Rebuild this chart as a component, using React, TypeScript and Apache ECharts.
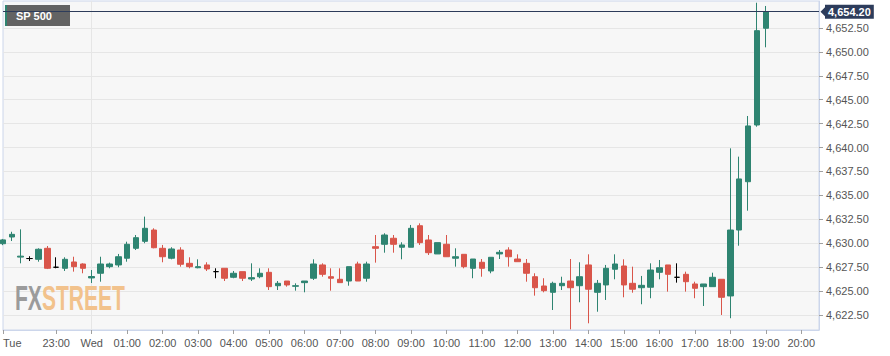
import React, { useEffect, useRef } from 'react';
import * as echarts from 'echarts';

// 15-minute categories from Tue 21:30 to Wed 20:30
const times: string[] = (() => {
  const out: string[] = [];
  const start = 21 * 60 + 30;
  for (let k = 0; k < 93; k++) {
    const t = (start + k * 15) % (24 * 60);
    const h = Math.floor(t / 60);
    const m = t % 60;
    out.push(`${String(h).padStart(2, '0')}:${String(m).padStart(2, '0')}`);
  }
  return out;
})();

const openP = [
  4629.95, 4630.65, 4628.55, 4628.4, 4628.32, 4629.47, 4627.49, 4627.38, 4628.04, 4627.83,
  4626.37, 4626.86, 4627.55, 4627.73, 4628.43, 4629.47, 4630.2, 4631.38, 4629.47, 4628.43,
  4629.29, 4627.9, 4627.44, 4627.73, 4627.03, 4627.38, 4626.44, 4627.03, 4626.26, 4626.5,
  4626.96, 4625.56, 4626.05, 4625.5, 4625.88, 4626.34, 4627.73, 4626.5, 4626.23, 4626.05,
  4627.83, 4626.34, 4629.64, 4629.89, 4630.52, 4629.58, 4629.58, 4631.83, 4630.34, 4628.88,
  4629.89, 4628.43, 4628.84, 4627.38, 4628.01, 4627.1, 4628.88, 4629.29, 4628.35, 4627.9,
  4626.5, 4625.53, 4624.87, 4625.56, 4626.05, 4625.56, 4627.73, 4624.87, 4625.64, 4627.28,
  4627.62, 4625.81, 4625.35, 4625.4, 4626.96, 4627.73, 4626.44, 4626.75, 4625.74, 4625.46,
  4625.46, 4626.23, 4624.49, 4631.38, 4636.43, 4642.36, 4652.47,
];
const closeP = [
  4630.35, 4630.93, 4628.65, 4628.4, 4629.37, 4627.38, 4627.49, 4628.32, 4627.55, 4627.38,
  4626.52, 4627.83, 4627.83, 4628.59, 4629.89, 4630.58, 4631.56, 4629.53, 4628.59, 4629.4,
  4627.8, 4627.55, 4627.55, 4627.31, 4627.03, 4626.34, 4626.86, 4626.34, 4626.4, 4626.86,
  4625.46, 4625.81, 4625.64, 4625.56, 4626.05, 4627.83, 4626.75, 4626.34, 4625.88, 4627.55,
  4626.05, 4627.83, 4629.47, 4630.86, 4629.89, 4629.82, 4631.56, 4630.06, 4629.01, 4630.06,
  4628.59, 4628.59, 4627.55, 4628.35, 4627.38, 4628.53, 4629.05, 4628.59, 4628.07, 4626.86,
  4625.35, 4625.04, 4625.81, 4625.81, 4625.35, 4626.5, 4625.19, 4625.81, 4627.38, 4627.83,
  4625.64, 4625.19, 4625.6, 4627.2, 4627.44, 4626.75, 4626.44, 4625.98, 4625.29, 4625.74,
  4626.44, 4624.35, 4631.38, 4636.72, 4642.26, 4652.22, 4654.2,
];
const lowP = [
  4629.8, 4630.23, 4627.9, 4628.14, 4628.07, 4627.3, 4627.38, 4627.1, 4627.03, 4626.86,
  4625.84, 4625.98, 4627.38, 4627.49, 4628.07, 4629.29, 4630.0, 4629.47, 4628.01, 4628.32,
  4627.55, 4627.38, 4627.38, 4627.1, 4626.34, 4626.05, 4626.34, 4626.05, 4626.05, 4626.34,
  4625.11, 4625.11, 4625.46, 4625.04, 4624.87, 4626.16, 4626.5, 4625.04, 4625.88, 4625.56,
  4626.05, 4625.98, 4627.97, 4629.01, 4629.01, 4628.32, 4629.58, 4629.82, 4628.77, 4628.88,
  4628.59, 4627.55, 4627.38, 4626.34, 4626.5, 4626.86, 4628.35, 4627.55, 4628.07, 4625.98,
  4624.52, 4624.87, 4623.02, 4625.11, 4621.0, 4623.83, 4621.63, 4622.84, 4624.07, 4626.23,
  4624.35, 4624.83, 4623.62, 4624.25, 4626.23, 4624.94, 4625.88, 4624.94, 4624.25, 4623.44,
  4625.46, 4622.5, 4622.16, 4629.74, 4633.4, 4642.18, 4650.48,
];
const highP = [
  4630.45, 4631.2, 4631.45, 4628.64, 4629.47, 4629.71, 4628.53, 4628.53, 4628.59, 4627.9,
  4627.2, 4628.59, 4627.97, 4628.88, 4630.16, 4630.86, 4632.78, 4631.56, 4629.82, 4629.58,
  4629.58, 4628.53, 4628.32, 4628.01, 4627.38, 4627.38, 4627.1, 4627.03, 4627.9, 4627.38,
  4627.38, 4626.05, 4626.05, 4625.81, 4626.05, 4628.32, 4627.9, 4627.38, 4627.38, 4627.55,
  4628.07, 4628.07, 4630.86, 4631.04, 4630.86, 4630.1, 4631.91, 4632.08, 4630.86, 4630.06,
  4630.86, 4629.47, 4628.84, 4628.35, 4628.35, 4628.53, 4629.29, 4629.58, 4628.84, 4628.35,
  4626.86, 4626.34, 4625.98, 4626.5, 4628.35, 4628.01, 4628.84, 4626.16, 4627.73, 4628.84,
  4628.32, 4627.55, 4626.58, 4627.9, 4628.25, 4627.73, 4627.9, 4627.03, 4625.98, 4625.74,
  4626.92, 4626.23, 4639.92, 4639.05, 4643.3, 4655.14, 4654.8,
];

const yTicks = [
  4622.5, 4625, 4627.5, 4630, 4632.5, 4635, 4637.5, 4640, 4642.5, 4645, 4647.5, 4650, 4652.5,
];
const lastPrice = 4654.2;
const title = 'SP 500';

const UP = '#2e8471';
const DOWN = '#d9554a';
const NAVY = '#2d3c5b';
const FONT = '"Liberation Sans", Arial, sans-serif';

const fmt = (v: number) =>
  v.toLocaleString('en-US', { minimumFractionDigits: 2, maximumFractionDigits: 2 });

const showHour = (index: number, value: string) =>
  index === 0 || (value.endsWith(':00') && value !== '22:00');

export default function App() {
  const ref = useRef<HTMLDivElement>(null);
  useEffect(() => {
    if (!ref.current) return;
    const chart = echarts.init(ref.current, undefined, { renderer: 'svg' });
    const data = openP.map((o, i) => [o, closeP[i], lowP[i], highP[i]]);
    chart.setOption({
      animation: false,
      backgroundColor: '#ffffff',
      textStyle: { fontFamily: FONT },
      grid: {
        left: 0,
        right: 71,
        top: 1,
        bottom: 26,
        show: true,
        backgroundColor: '#f7f7f7',
        borderColor: '#ccd6eb',
        borderWidth: 1,
      },
      xAxis: {
        type: 'category',
        data: times,
        boundaryGap: false,
        axisLine: { lineStyle: { color: '#ccd6eb' } },
        axisTick: { interval: showHour, length: 4, lineStyle: { color: '#a0a0a0' } },
        axisLabel: {
          interval: showHour,
          formatter: (v: string, i: number) => (i === 0 ? 'Tue' : v === '00:00' ? 'Wed' : v),
          color: '#555',
          fontSize: 11,
          fontFamily: FONT,
          margin: 7,
          alignMinLabel: 'left',
        },
        splitLine: {
          show: true,
          interval: (_i: number, v: string) => v === '00:00',
          lineStyle: { color: '#e6e6e6' },
        },
      },
      yAxis: {
        type: 'value',
        position: 'right',
        min: 4620.93,
        max: 4655.32,
        axisLine: { show: true, lineStyle: { color: '#ccd6eb' } },
        axisTick: { show: true, length: 4, customValues: yTicks, lineStyle: { color: '#a0a0a0' } },
        axisLabel: {
          customValues: yTicks,
          formatter: (v: number) => fmt(v),
          color: '#555',
          fontSize: 11,
          fontFamily: FONT,
          margin: 7,
        },
        splitLine: { show: true, lineStyle: { color: '#e6e6e6' } },
      },
      series: [
        {
          type: 'candlestick',
          data,
          barWidth: 6,
          itemStyle: {
            color: UP,
            color0: DOWN,
            borderColor: UP,
            borderColor0: DOWN,
            borderColorDoji: '#000000',
            borderWidth: 1,
          },
          markLine: {
            silent: true,
            symbol: ['none', 'none'],
            lineStyle: { color: NAVY, width: 1, type: 'solid' },
            label: {
              position: 'end',
              distance: 6,
              formatter: () => fmt(lastPrice),
              backgroundColor: NAVY,
              color: '#ffffff',
              fontWeight: 'bold',
              fontSize: 11,
              fontFamily: FONT,
              padding: [2, 3, 1, 3],
            },
            data: [{ yAxis: lastPrice }],
          },
        },
      ],
    });
    const yPix = chart.convertToPixel({ yAxisIndex: 0 }, lastPrice) as number;
    const xEnd = chart.convertToPixel({ xAxisIndex: 0 }, times[times.length - 1]) as number;
    chart.setOption({
      graphic: [
        {
          type: 'group',
          z: 1,
          children: [
            { type: 'rect', shape: { x: 5, y: 5, width: 65, height: 21 }, style: { fill: '#636363' } },
            { type: 'rect', shape: { x: 5, y: 5, width: 2, height: 21 }, style: { fill: UP } },
            {
              type: 'text',
              x: 16,
              y: 16,
              style: {
                text: title,
                fill: '#ffffff',
                font: `bold 11px ${FONT}`,
                verticalAlign: 'middle',
              },
            },
          ],
        },
        {
          type: 'text',
          z: 0,
          x: 15,
          y: 297,
          scaleX: 0.585,
          style: {
            text: '{a|FX}{b|STREET}',
            verticalAlign: 'middle',
            font: `bold 36px ${FONT}`,
            rich: {
              a: { fill: '#9b9b9b', font: `bold 36px ${FONT}` },
              b: { fill: '#f2c28c', font: `bold 36px ${FONT}` },
            },
          },
        },
        {
          type: 'polygon',
          z: 10,
          shape: {
            points: [
              [xEnd + 1.5, yPix],
              [xEnd + 6, yPix - 4.5],
              [xEnd + 6, yPix + 4.5],
            ],
          },
          style: { fill: NAVY },
        },
      ],
    });
    return () => chart.dispose();
  }, []);
  return (
    <div
      ref={ref}
      style={{ position: 'absolute', left: 0, top: 0, width: 890, height: 356 }}
    />
  );
}
